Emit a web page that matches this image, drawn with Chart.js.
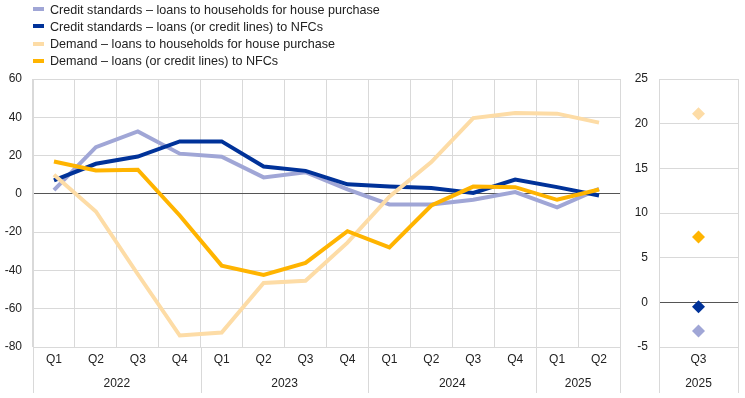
<!DOCTYPE html>
<html>
<head>
<meta charset="utf-8">
<script src="https://cdn.jsdelivr.net/npm/chart.js@4"></script>
<style>
  body { margin: 0; background: #fff; font-family: "Liberation Sans", Arial, sans-serif; }
  #wrap { position: relative; width: 745px; height: 398px; }
  #left { position: absolute; left: 0; top: 0; }
  #right { position: absolute; left: 630px; top: 0; }
  #legend { position: absolute; left: 33px; top: 1.5px; font-size: 12.6px; color: #222; }
  #legend div { height: 17.3px; line-height: 17.3px; white-space: nowrap; }
  #legend span { display: inline-block; width: 11px; height: 4px; margin-right: 6px; vertical-align: middle; position: relative; top: -1px; }
</style>
</head>
<body>
<div id="wrap">
  <canvas id="left" width="630" height="398"></canvas>
  <canvas id="right" width="115" height="398"></canvas>
  <div id="legend"></div>
</div>
<script>
// quarters and years
var quarters = ["Q1", "Q2", "Q3", "Q4", "Q1", "Q2", "Q3", "Q4", "Q1", "Q2", "Q3", "Q4", "Q1", "Q2"];
var years = ["2022", "2022", "2022", "2022", "2023", "2023", "2023", "2023", "2024", "2024", "2024", "2024", "2025", "2025"];

// net percentages
var creditHouseholds = [2, 24.4, 32.6, 21, 19.4, 8.6, 11.3, 2.4, -5.5, -5.6, -3.1, 0.9, -7, 2.6];
var creditNfc = [7, 15.7, 19.5, 27.4, 27.4, 14.3, 12, 5, 3.8, 3, 0.5, 7.5, 3.5, -0.9];
var demandHouseholds = [10, -9.2, -42, -74, -72.4, -46.6, -45.4, -25.5, -1.5, 16.6, 39.6, 42.2, 41.9, 37.2];
var demandNfc = [16.9, 12.2, 12.6, -11.3, -37.5, -42.4, -36.1, -19.5, -28, -6.1, 3.8, 3.5, -3.1, 2.3];

// expectations for next quarter
var nextQuarter = ["Q3"];
var nextYear = ["2025"];
var expCreditHouseholds = [-3.2];
var expCreditNfc = [-0.5];
var expDemandHouseholds = [21.1];
var expDemandNfc = [7.3];

var names = [
    "Credit standards \u2013 loans to households for house purchase",
    "Credit standards \u2013 loans (or credit lines) to NFCs",
    "Demand \u2013 loans to households for house purchase",
    "Demand \u2013 loans (or credit lines) to NFCs"
];
var colors = ["#a0a6d6", "#003299", "#fddca6", "#ffb400"];

var legendHtml = "";
for (var i = 0; i < names.length; i++) {
    legendHtml += '<div><span style="background:' + colors[i] + '"></span>' + names[i] + '</div>';
}
document.getElementById("legend").innerHTML = legendHtml;

Chart.defaults.font.family = "'Liberation Sans', Arial, sans-serif";
Chart.defaults.font.size = 12;
Chart.defaults.color = "#222";
Chart.defaults.animation = false;

var gridColor = "#d9d9d9";

// year labels and separators under the quarter labels
function yearPlugin(yearList) {
    return {
        id: "years",
        afterDraw: function (chart) {
            var ctx = chart.ctx;
            var x = chart.scales.x;
            var area = chart.chartArea;
            var half = (x.getPixelForValue(1) - x.getPixelForValue(0)) / 2;
            if (yearList.length == 1) half = (area.right - area.left) / 2;
            ctx.save();
            ctx.strokeStyle = gridColor;
            ctx.lineWidth = 1;
            ctx.fillStyle = "#222";
            ctx.font = "12px 'Liberation Sans', Arial, sans-serif";
            ctx.textAlign = "center";
            ctx.textBaseline = "middle";
            var start = 0;
            for (var i = 1; i <= yearList.length; i++) {
                if (i == yearList.length || yearList[i] != yearList[start]) {
                    var x0 = x.getPixelForValue(start) - half;
                    var x1 = x.getPixelForValue(i - 1) + half;
                    ctx.fillText(yearList[start], (x0 + x1) / 2, area.bottom + 37);
                    ctx.beginPath();
                    ctx.moveTo(Math.round(x0) + 0.5, area.bottom);
                    ctx.lineTo(Math.round(x0) + 0.5, area.bottom + 46);
                    ctx.moveTo(Math.round(x1) + 0.5, area.bottom);
                    ctx.lineTo(Math.round(x1) + 0.5, area.bottom + 46);
                    ctx.stroke();
                    start = i;
                }
            }
            ctx.restore();
        }
    };
}

function lineSet(data, i, order) {
    return {
        label: names[i],
        data: data,
        borderColor: colors[i],
        backgroundColor: colors[i],
        borderWidth: 4,
        pointRadius: 0,
        tension: 0,
        order: order
    };
}

new Chart("left", {
    type: "line",
    data: {
        labels: quarters,
        datasets: [
            lineSet(creditHouseholds, 0, 4),
            lineSet(creditNfc, 1, 3),
            lineSet(demandHouseholds, 2, 2),
            lineSet(demandNfc, 3, 1)
        ]
    },
    options: {
        responsive: false,
        layout: { padding: { top: 79, right: 10, bottom: 0, left: 0 } },
        plugins: { legend: { display: false }, tooltip: { enabled: false } },
        scales: {
            x: {
                offset: true,
                grid: { offset: true, color: gridColor, drawTicks: false },
                border: { color: gridColor },
                ticks: { padding: 5, maxRotation: 0 },
                afterFit: function (s) { s.height = 51; }
            },
            y: {
                min: -80, max: 60,
                grid: {
                    drawTicks: false,
                    color: function (c) { return c.tick.value == 0 ? "#555" : gridColor; }
                },
                border: { color: gridColor },
                ticks: { stepSize: 20, padding: 11 },
                afterFit: function (s) { s.width = 33; }
            }
        }
    },
    plugins: [yearPlugin(years)]
});

function pointSet(data, i, order) {
    return {
        label: names[i],
        data: data,
        borderColor: colors[i],
        backgroundColor: colors[i],
        showLine: false,
        pointStyle: "rectRot",
        pointRadius: 6.5,
        borderWidth: 0,
        order: order
    };
}

new Chart("right", {
    type: "line",
    data: {
        labels: nextQuarter,
        datasets: [
            pointSet(expCreditHouseholds, 0, 4),
            pointSet(expCreditNfc, 1, 3),
            pointSet(expDemandHouseholds, 2, 2),
            pointSet(expDemandNfc, 3, 1)
        ]
    },
    options: {
        responsive: false,
        layout: { padding: { top: 79, right: 7, bottom: 0, left: 0 } },
        plugins: { legend: { display: false }, tooltip: { enabled: false } },
        scales: {
            x: {
                offset: true,
                grid: { offset: true, color: gridColor, drawTicks: false },
                border: { color: gridColor },
                ticks: { padding: 5, maxRotation: 0 },
                afterFit: function (s) { s.height = 51; }
            },
            y: {
                min: -5, max: 25,
                grid: {
                    drawTicks: false,
                    color: function (c) { return c.tick.value == 0 ? "#555" : gridColor; }
                },
                border: { color: gridColor },
                ticks: { stepSize: 5, padding: 11 },
                afterFit: function (s) { s.width = 29; }
            }
        }
    },
    plugins: [yearPlugin(nextYear)]
});
</script>
</body>
</html>
